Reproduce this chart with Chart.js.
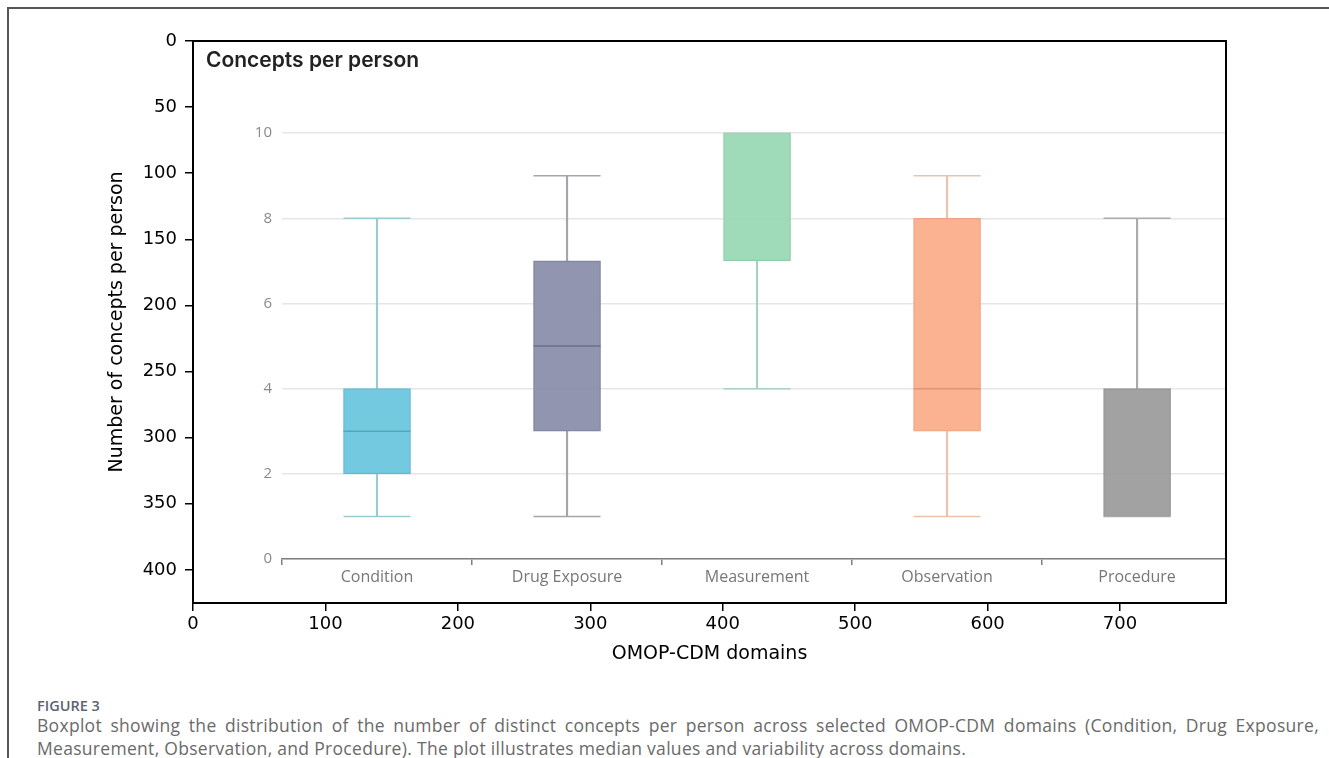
<!DOCTYPE html>
<html>
<head>
<meta charset="utf-8">
<script src="https://cdn.jsdelivr.net/npm/chart.js@4.4.1/dist/chart.umd.min.js"></script>
<style>
  html, body { margin: 0; padding: 0; background: #fff; }
  #page { position: relative; width: 1329px; height: 758px; overflow: hidden; background: #fff; }
  #frameLine { position: absolute; left: 7px; top: 7px; right: -10px; bottom: -10px; border-top: 2px solid #555; border-left: 2px solid #555; }
  #inner { position: absolute; left: 195px; top: 42px; }
  #outer { position: absolute; left: 0; top: 0; }
  #figLabel { position: absolute; left: 37px; top: 696px; font-family: 'Open Sans', sans-serif; font-size: 14.5px; font-weight: 600; color: #5b6470; }
  #caption { position: absolute; left: 37px; top: 714px; width: 1282px; font-family: 'Open Sans', sans-serif; font-size: 17.5px; letter-spacing: 0.3px; line-height: 23px; color: #6a6a6a; text-align: justify; }
</style>
</head>
<body>
<div id="page">
  <div id="frameLine"></div>
  <canvas id="inner" width="1031" height="560"></canvas>
  <canvas id="outer" width="1329" height="680"></canvas>
  <div id="figLabel">FIGURE 3</div>
  <div id="caption">Boxplot showing the distribution of the number of distinct concepts per person across selected OMOP-CDM domains (Condition, Drug Exposure, Measurement, Observation, and Procedure). The plot illustrates median values and variability across domains.</div>
</div>
<script>
// boxplot values (concepts per person)
const domains = ['Condition', 'Drug Exposure', 'Measurement', 'Observation', 'Procedure'];
const whiskerLow = [1, 1, 4, 1, 1];
const q1 = [2, 3, 7, 3, 1];
const median = [3, 5, 10, 4, 1];
const q3 = [4, 7, 10, 8, 4];
const whiskerHigh = [8, 9, 10, 9, 8];

// outer axes (pixel coordinates of the embedded image)
const outerXTicks = [0, 100, 200, 300, 400, 500, 600, 700];
const outerYTicks = [0, 50, 100, 150, 200, 250, 300, 350, 400];

const boxFill = ['rgba(104,197,222,0.93)', 'rgba(137,141,170,0.93)', 'rgba(152,215,180,0.93)', 'rgba(251,172,136,0.93)', 'rgba(155,155,155,0.93)'];
const boxEdge = ['#62b8cf', '#7e829f', '#8fcbaa', '#eba485', '#939393'];
const whiskerColor = ['#9ccad1', '#a3a4ae', '#a9d0c1', '#e7c4ae', '#ababab'];
const medianColor = ['#56a6ba', '#6c708e', 'rgba(0,0,0,0)', '#e0957a', 'rgba(0,0,0,0)'];

const pos = domains.map((d, i) => i + 0.5);
const pairs = (a, b) => domains.map((d, i) => ({ x: pos[i], y: [a[i], b[i]] }));
const points = arr => domains.map((d, i) => ({ x: pos[i], y: arr[i] }));

new Chart(document.getElementById('inner'), {
  type: 'bar',
  data: {
    datasets: [
      { data: pairs(whiskerLow, q1), backgroundColor: whiskerColor, barThickness: 1.5, grouped: false, order: 5, clip: false },
      { data: pairs(q3, whiskerHigh), backgroundColor: whiskerColor, barThickness: 1.5, grouped: false, order: 5, clip: false },
      { data: pairs(q1, q3), backgroundColor: boxFill, borderColor: boxEdge, borderWidth: 1, borderSkipped: false,
        barThickness: 67, grouped: false, order: 4, clip: false },
      { type: 'scatter', data: points(median), pointStyle: 'line', radius: 33.5, borderWidth: 1.5,
        borderColor: medianColor, backgroundColor: medianColor, order: 2, clip: false },
      { type: 'scatter', data: points(whiskerLow), pointStyle: 'line', radius: 33.5, borderWidth: 1.5,
        borderColor: whiskerColor, order: 3, clip: false },
      { type: 'scatter', data: points(whiskerHigh), pointStyle: 'line', radius: 33.5, borderWidth: 1.5,
        borderColor: whiskerColor, order: 3, clip: false }
    ]
  },
  options: {
    responsive: false,
    animation: false,
    layout: { autoPadding: false, padding: { left: 11, top: 0, right: 0, bottom: 0 } },
    plugins: {
      legend: { display: false },
      tooltip: { enabled: false },
      title: {
        display: true, text: 'Concepts per person', align: 'start', color: '#222',
        font: { family: 'Inter', size: 21, weight: '600' },
        padding: { top: 6, bottom: 60 }
      }
    },
    scales: {
      x: {
        type: 'linear', min: 0, max: 4.968, offset: false,
        afterBuildTicks: s => {
          const t = [];
          domains.forEach((d, i) => { t.push({ value: i }); t.push({ value: i + 0.5 }); });
          s.ticks = t;
        },
        afterFit: s => { s.height = 43; s.paddingLeft = 0; s.paddingRight = 0; },
        ticks: {
          autoSkip: false, maxRotation: 0, color: '#777', padding: 3,
          font: { family: 'Open Sans', size: 16 },
          callback: v => Number.isInteger(v) ? '' : domains[Math.floor(v)]
        },
        grid: {
          drawOnChartArea: false, tickLength: 6, lineWidth: 1.5, offset: false,
          color: c => (c.tick && Number.isInteger(c.tick.value)) ? '#808080' : 'rgba(0,0,0,0)'
        },
        border: { color: '#808080', width: 1.5 }
      },
      y: {
        min: 0, max: 10,
        afterFit: s => { s.width = 76; },
        ticks: { stepSize: 2, color: '#8a8a8a', padding: 10, font: { family: 'Open Sans', size: 15 } },
        grid: { color: '#e6e6e6', lineWidth: 1.5, drawTicks: false },
        border: { display: false }
      }
    }
  }
});

new Chart(document.getElementById('outer'), {
  type: 'scatter',
  data: { datasets: [] },
  options: {
    responsive: false,
    animation: false,
    layout: { autoPadding: false, padding: { left: 0, top: 41, right: 103, bottom: 0 } },
    plugins: { legend: { display: false }, tooltip: { enabled: false } },
    scales: {
      x: {
        type: 'linear', min: 0, max: 780, position: 'bottom',
        afterBuildTicks: s => { s.ticks = outerXTicks.map(v => ({ value: v })); },
        afterFit: s => { s.height = 77; },
        ticks: { autoSkip: false, maxRotation: 0, color: '#000', padding: 3, font: { family: 'DejaVu Sans', size: 18 } },
        grid: { drawOnChartArea: false, tickLength: 8, color: '#000', lineWidth: 1.5 },
        border: { color: '#000', width: 2 },
        title: { display: true, text: 'OMOP-CDM domains', color: '#000', font: { family: 'DejaVu Sans', size: 19 }, padding: { top: 0, bottom: 15 } }
      },
      y: {
        type: 'linear', min: 0, max: 425, reverse: true, position: 'left',
        afterBuildTicks: s => { s.ticks = outerYTicks.map(v => ({ value: v })); },
        afterFit: s => { s.width = 193; },
        ticks: { autoSkip: false, color: '#000', padding: 8, font: { family: 'DejaVu Sans', size: 18 } },
        grid: { drawOnChartArea: false, tickLength: 8, color: '#000', lineWidth: 1.5 },
        border: { color: '#000', width: 2 },
        title: { display: true, text: 'Number of concepts per person', color: '#000', font: { family: 'DejaVu Sans', size: 19 }, padding: { top: 106, bottom: 0 } }
      },
      xTop: {
        type: 'linear', position: 'top', min: 0, max: 780,
        afterFit: s => { s.height = 0; },
        ticks: { display: false },
        grid: { drawOnChartArea: false, drawTicks: false },
        border: { color: '#000', width: 2 }
      },
      yRight: {
        type: 'linear', position: 'right', min: 0, max: 425,
        afterFit: s => { s.width = 0; },
        ticks: { display: false },
        grid: { drawOnChartArea: false, drawTicks: false },
        border: { color: '#000', width: 2 }
      }
    }
  }
});
</script>
</body>
</html>
